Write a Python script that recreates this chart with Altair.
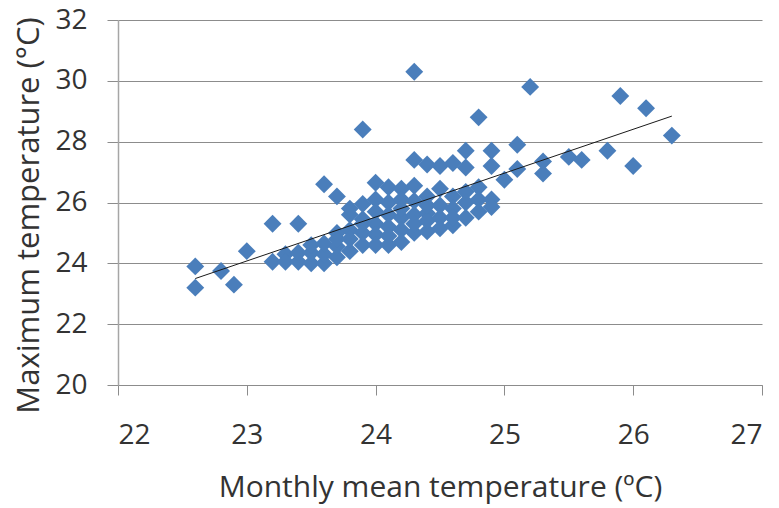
import altair as alt
import pandas as pd

# Monthly mean temperature (x) vs maximum temperature (y)
mean_temp = [
    22.6, 22.6, 22.8, 22.9, 23.0, 23.2, 23.4, 23.2, 23.3, 23.3,
    23.4, 23.4, 23.5, 23.5, 23.5, 23.6, 23.6, 23.6, 23.6, 23.7,
    23.7, 23.7, 23.7, 23.7, 23.8, 23.8, 23.8, 23.8, 23.8, 23.9,
    23.9, 23.9, 23.9, 23.9, 23.9, 24.0, 24.0, 24.0, 24.0, 24.0,
    24.0, 24.1, 24.1, 24.1, 24.1, 24.1, 24.1, 24.2, 24.2, 24.2,
    24.2, 24.2, 24.2, 24.3, 24.3, 24.3, 24.3, 24.3, 24.3, 24.3,
    24.4, 24.4, 24.4, 24.4, 24.4, 24.4, 24.5, 24.5, 24.5, 24.5,
    24.5, 24.6, 24.6, 24.6, 24.6, 24.6, 24.7, 24.7, 24.7, 24.7,
    24.7, 24.8, 24.8, 24.8, 24.8, 24.9, 24.9, 24.9, 24.9, 25.0,
    25.1, 25.1, 25.2, 25.3, 25.3, 25.5, 25.6, 25.8, 25.9, 26.0,
    26.1, 26.3,
]
max_temp = [
    23.9, 23.2, 23.75, 23.3, 24.4, 25.3, 25.3, 24.05, 24.3, 24.05,
    24.05, 24.35, 24.0, 24.35, 24.6, 24.0, 24.3, 24.65, 26.6, 26.2,
    24.2, 24.55, 25.0, 24.8, 24.4, 25.6, 25.8, 25.1, 24.8, 28.4,
    24.6, 25.0, 25.45, 25.95, 25.3, 26.65, 26.1, 25.7, 25.3, 24.95,
    24.6, 26.5, 26.0, 25.6, 25.2, 24.6, 24.9, 26.45, 26.1, 25.5,
    25.1, 24.7, 25.8, 30.3, 27.4, 26.55, 26.05, 25.6, 25.0, 25.3,
    27.25, 26.2, 25.65, 25.05, 25.4, 25.9, 27.2, 26.45, 25.9, 25.5,
    25.15, 27.3, 26.2, 25.8, 25.25, 25.5, 27.7, 27.15, 26.35, 26.0,
    25.5, 28.8, 26.5, 26.1, 25.7, 27.7, 27.2, 26.1, 25.85, 26.75,
    27.9, 27.1, 29.8, 27.35, 26.95, 27.5, 27.4, 27.7, 29.5, 27.2,
    29.1, 28.2,
]

# Linear trend line end points
trend_x = [22.6, 26.3]
trend_y = [23.5, 28.84]

x_ticks = [22, 23, 24, 25, 26, 27]
y_ticks = [20, 22, 24, 26, 28, 30, 32]

pts = pd.DataFrame({"x": mean_temp, "y": max_temp})
trend = pd.DataFrame({"x": trend_x, "y": trend_y})

FONT = "Open Sans"

x_enc = alt.X(
    "x:Q",
    scale=alt.Scale(domain=[22, 27], nice=False, zero=False),
    axis=alt.Axis(
        title="Monthly mean temperature (\u00baC)",
        values=x_ticks,
        format="d",
        grid=False,
        domainColor="#8c8c8c",
        tickColor="#8c8c8c",
        tickSize=10,
        labelPadding=40,
        labelBaseline="middle",
        labelFontSize=28,
        labelFont=FONT,
        labelColor="#333333",
        titleFont=FONT,
        titleFontSize=30,
        titleFontWeight="normal",
        titleColor="#333333",
        titleBaseline="middle",
        titleX=322,
        titleY=102,
    ),
)
y_enc = alt.Y(
    "y:Q",
    scale=alt.Scale(domain=[20, 32], nice=False, zero=False),
    axis=alt.Axis(
        title="Maximum temperature (\u00b0C)",
        values=y_ticks,
        format="d",
        grid=True,
        gridColor="#8c8c8c",
        gridWidth=1,
        domainColor="#a6a6a6",
        domainWidth=1.5,
        tickColor="#8c8c8c",
        tickSize=11,
        labelPadding=20,
        labelFontSize=28,
        labelFont=FONT,
        labelColor="#333333",
        titleFont=FONT,
        titleFontSize=31,
        titleFontWeight="normal",
        titleColor="#333333",
        titleAngle=-90,
        titleAlign="center",
        titleBaseline="middle",
        titleX=-89,
        titleY=195,
    ),
)

points = alt.Chart(pts).mark_point(
    shape="diamond", filled=True, size=320, color="#4a7ebb", opacity=1
).encode(x=x_enc, y=y_enc)

line = alt.Chart(trend).mark_line(color="#1a1a1a", strokeWidth=1).encode(
    x="x:Q", y="y:Q"
)

chart = (
    alt.layer(points, line)
    .properties(
        width=644,
        height=365,
        autosize=alt.AutoSizeParams(type="none"),
        padding={"left": 110, "top": 12, "right": 9, "bottom": 120},
        background="white",
    )
    .configure_view(stroke=None)
)

chart.save("out.html", embed_options={"renderer": "svg", "actions": False})
